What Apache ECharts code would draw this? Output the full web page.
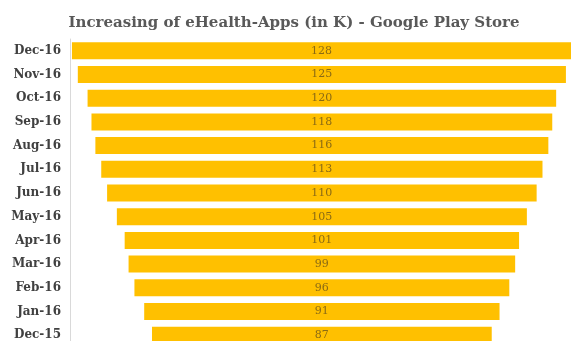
<!DOCTYPE html>
<html>
<head>
<meta charset="utf-8">
<script src="https://cdn.jsdelivr.net/npm/echarts@6/dist/echarts.min.js"></script>
<style>html,body{margin:0;padding:0;background:#fff;overflow:hidden}#c{width:571px;height:347px}</style>
</head>
<body>
<div id="c"></div>
<script>
var titleText = 'Increasing of eHealth-Apps (in K) - Google Play Store';
var categories = ['Dec-16','Nov-16','Oct-16','Sep-16','Aug-16','Jul-16','Jun-16','May-16','Apr-16','Mar-16','Feb-16','Jan-16','Dec-15'];
var values = [128,125,120,118,116,113,110,105,101,99,96,91,87];

var center = 64.5;
var axisMax = 128.3;
var offsets = values.map(function(v){ return center - v / 2; });

var chart = echarts.init(document.getElementById('c'), null, {renderer:'canvas'});
chart.setOption({
  animation: false,
  backgroundColor: '#ffffff',
  title: {
    text: titleText,
    left: 289, top: 11, textAlign: 'center',
    textStyle: {fontFamily: 'DejaVu Serif', fontWeight: 'bold', fontSize: 15, color: '#595959'}
  },
  grid: {left: 70, right: 0, top: 39, bottom: 0, containLabel: false},
  xAxis: {type: 'value', min: 0, max: axisMax, show: false},
  yAxis: {
    type: 'category', data: categories, inverse: true,
    axisLine: {show: true, lineStyle: {color: '#d9d9d9', width: 1}},
    axisTick: {show: false},
    axisLabel: {fontFamily: 'DejaVu Serif', fontWeight: 'bold', fontSize: 12, color: '#404040', margin: 9}
  },
  series: [
    {type: 'bar', stack: 's', data: offsets, barWidth: 17, itemStyle: {color: 'transparent'}, silent: true},
    {type: 'bar', stack: 's', data: values, barWidth: 17, itemStyle: {color: '#FFC000'},
     label: {show: true, position: 'inside', fontFamily: 'DejaVu Serif', fontSize: 11, color: '#8a6a14'}}
  ]
});
</script>
</body>
</html>
